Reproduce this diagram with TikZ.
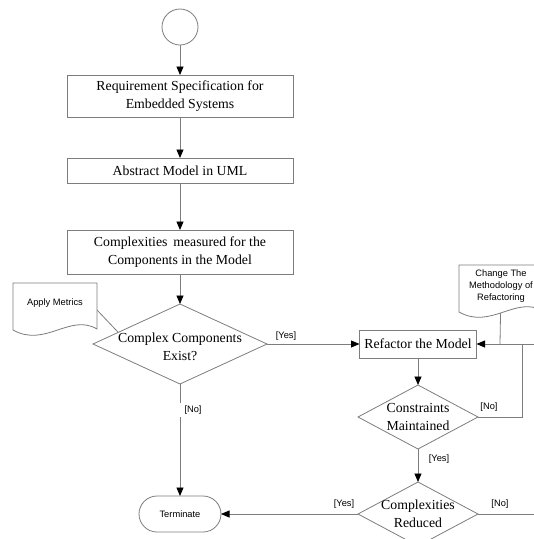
\documentclass[tikz,border=0pt]{standalone}
\usepackage{fontspec}
\setmainfont{Liberation Serif}
\setsansfont{Liberation Sans}
\usetikzlibrary{arrows.meta,shapes.geometric,calc}
\definecolor{ln}{RGB}{125,125,125}
\newcommand\serifbig{\fontsize{13.8}{18}\selectfont}
\newcommand\sanssmall{\sffamily\fontsize{9.3}{12}\selectfont}
\begin{document}
\begin{tikzpicture}[x=1pt,y=-1pt,
  every node/.style={inner sep=0pt,outer sep=0pt},
  proc/.style={draw=ln,line width=0.8pt,minimum width=226pt,font=\serifbig,align=center},
  dec/.style={draw=ln,line width=0.8pt,diamond,inner sep=0pt},
  dectext/.style={font=\serifbig,align=center},
  lab/.style={font=\sanssmall,align=center},
  con/.style={draw=ln,line width=0.8pt},
  arr/.style={con,-{Triangle[length=8.5pt,width=7pt,color=black]}},
  docshape/.style={draw=ln,line width=0.8pt,fill=white},
]
\useasboundingbox (0,0) rectangle (534,539);
\clip (0,0) rectangle (534,539);

% main column
\node[circle,draw=ln,line width=0.8pt,minimum size=36pt] (start) at (180,27) {};
\node[proc,minimum height=42pt] (req) at (180,96) {Requirement Specification for\\Embedded Systems};
\node[proc,minimum height=25pt] (abs) at (180,170.5) {Abstract Model in UML};
\node[proc,minimum height=44pt] (cmp) at (180,252) {Complexities\ \,measured for the\\Components in the Model};
\node[dec,minimum width=174pt,minimum height=80pt,
      label={[dectext,yshift=-3pt]center:Complex Components\\Exist?}] (d1) at (180,344) {};
\node[draw=ln,line width=0.8pt,rounded corners=18pt,minimum width=82pt,minimum height=36pt,font=\sanssmall] (term) at (180,514) {Terminate};

% right column
\node[proc,minimum width=117pt,minimum height=28pt] (ref) at (418,344) {Refactor the Model};
\node[dec,minimum width=120pt,minimum height=64pt,
      label={[dectext]center:Constraints\\Maintained}] (d2) at (418,417) {};
\node[dec,minimum width=120pt,minimum height=64pt,
      label={[dectext]center:Complexities\\Reduced}] (d3) at (418,514) {};

% helper coordinates
\coordinate (j1) at (522,344);
\coordinate (j2) at (500,344);
\coordinate (e1) at (540,344);
\coordinate (e2) at (540,514);
\coordinate (amr) at (97,310);
\coordinate (d1e) at ($(d1.west)!0.29!(d1.north)$);

% connectors
\draw[arr] (start) -- (req);
\draw[arr] (req) -- (abs);
\draw[arr] (abs) -- (cmp);
\draw[arr] (cmp) -- (d1);
\draw[arr] (d1) -- (term);
\draw[arr] (d1.east) -- (ref.west);
\draw[arr] (ref) -- (d2);
\draw[arr] (d2) -- (d3);
\draw[arr] (d3.west) -- (term.east);
\draw[con] (d3.east) -- (e2);
\draw[arr] (d2.east) -| (j1) -- (ref.east);
\draw[con] (e1) -- (j1);
\draw[con] (amr) -- (d1e);

% Change The Methodology document (line under it first)
\node[lab] (chg) at (501,286) {Change The\\Methodology of\\Refactoring};
\draw[con] (j2) -- (chg.center);
\begin{scope}[shift={(459,265)}]
  \path[docshape] (0,0) -- (84,0) -- (84,46) .. controls (57,30) and (32,65) .. (0,47) -- cycle;
\end{scope}
\node[lab] at (chg) {Change The\\Methodology of\\Refactoring};

% Apply Metrics document
\begin{scope}[shift={(13,283)}]
  \path[docshape] (0,0) -- (84,0) -- (84,46) .. controls (57,30) and (32,65) .. (0,47) -- cycle;
\end{scope}
\node[lab] (am) at (55,303) {Apply Metrics};

% guard labels
\node[lab] (ly1) at (286,336) {[Yes]};
\node[lab,fill=white,anchor=west,inner ysep=3pt] (ln1) at (178.5,410) {\hspace{6pt}[No]};
\node[lab] (ly2) at (439,459) {[Yes]};
\node[lab] (ln2) at (489,407) {[No]};
\node[lab] (ly3) at (344,504) {[Yes]};
\node[lab] (ln3) at (500,504) {[No]};
\end{tikzpicture}
\end{document}
